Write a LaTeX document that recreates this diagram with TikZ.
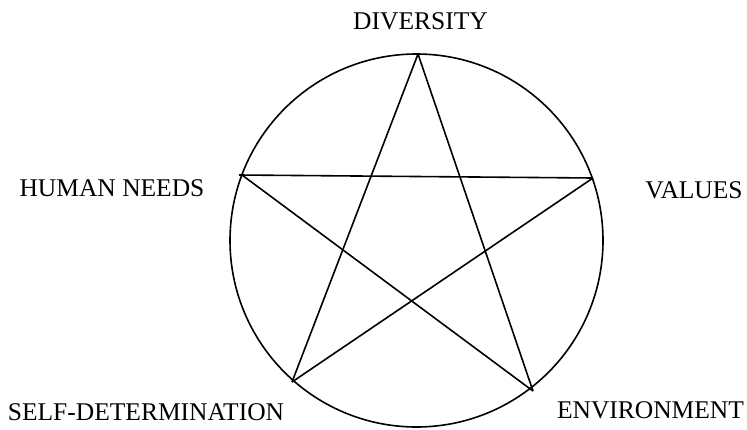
\documentclass[tikz,border=0pt]{standalone}
\usepackage{fontspec}
\setmainfont{Liberation Serif}
\usetikzlibrary{positioning}

\begin{document}
\begin{tikzpicture}[x=1pt,y=-1pt,line width=1.6pt]
\tikzset{lbl/.style={font=\fontsize{25.5}{28}\selectfont,inner sep=0pt,anchor=base}}
\useasboundingbox (0,0) rectangle (747,429);
\coordinate (c) at (416.5,240.5);
\draw (c) circle[radius=186.5];
\coordinate (top) at (418,54);
\coordinate (left) at (242,175);
\coordinate (right) at (593,178);
\coordinate (bl) at (292,382);
\coordinate (br) at (533,391);
\node[lbl] (div) at (420.5,29) {DIVERSITY};
\node[lbl] (hum) at (112,196) {HUMAN NEEDS};
\node[lbl] (val) at (694,198) {VALUES};
\node[lbl] (self) at (146,420) {SELF-DETERMINATION};
\node[lbl] (env) at (650.5,418) {ENVIRONMENT};
\draw (top) -- (bl);
\draw (top) -- (br);
\draw ([xshift=-3pt]left) -- (right);
\draw (left) -- (br);
\draw (right) -- (bl);
\end{tikzpicture}
\end{document}
